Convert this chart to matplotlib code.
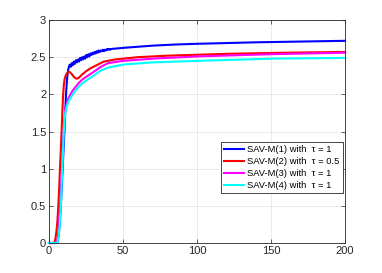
import matplotlib
matplotlib.use("Agg")
import matplotlib.pyplot as plt

# Series 1 (blue) - with fine oscillations in the 14..42 range
x1 = [0, 5.5, 6.5, 7.3, 8, 8.6, 9.2, 9.8, 10.4, 11, 11.5, 12.1, 12.7, 13.3,
      14.0, 14.7, 15.4, 16.1, 16.8, 17.5, 18.2, 18.9, 19.6, 20.3, 21.0, 21.7,
      22.4, 23.1, 23.8, 24.5, 25.2, 25.9, 26.6, 27.3, 28.0, 28.7, 29.4, 30.1,
      30.8, 31.5, 32.2, 32.9, 33.6, 34.3, 35.0, 35.7, 36.4, 37.1, 37.8, 38.5,
      39.2, 39.9, 40.6, 41.3, 42.0,
      50, 60, 70, 85, 100, 120, 140, 170, 200]
y1 = [0, 0, 0.1, 0.3, 0.5, 0.75, 1.0, 1.25, 1.5, 1.78, 2.0, 2.18, 2.3, 2.36,
      2.40, 2.37, 2.42, 2.39, 2.44, 2.41, 2.46, 2.43, 2.47, 2.44, 2.49, 2.46,
      2.50, 2.47, 2.51, 2.48, 2.53, 2.50, 2.54, 2.51, 2.55, 2.53, 2.56, 2.54,
      2.57, 2.55, 2.58, 2.56, 2.59, 2.57, 2.59, 2.58, 2.60, 2.58, 2.60, 2.59,
      2.61, 2.60, 2.61, 2.60, 2.61,
      2.625, 2.64, 2.655, 2.67, 2.68, 2.69, 2.70, 2.71, 2.72]

# Series 2 (red)
x2 = [0, 3.5, 4.3, 5, 5.7, 6.3, 6.9, 7.4, 8, 8.5, 9, 9.5, 10, 10.5, 11.2, 12,
      13, 14, 15.5, 17, 18.5, 20, 22, 25, 28, 32, 37, 45, 60, 80, 120, 160, 200]
y2 = [0, 0, 0.05, 0.15, 0.3, 0.5, 0.75, 1.0, 1.25, 1.5, 1.75, 1.98, 2.12, 2.2, 2.25, 2.28,
      2.30, 2.30, 2.27, 2.23, 2.21, 2.22, 2.26, 2.31, 2.35, 2.39, 2.44, 2.47, 2.50, 2.52, 2.545, 2.56, 2.57]

# Series 3 (magenta)
x3 = [0, 5, 6, 6.8, 7.5, 8.1, 8.7, 9.3, 9.9, 10.5, 11, 12, 13, 14.5, 16, 18, 20, 22, 24,
      27, 30, 35, 40, 50, 70, 100, 150, 200]
y3 = [0, 0, 0.08, 0.25, 0.5, 0.75, 1.0, 1.25, 1.5, 1.7, 1.8, 1.88, 1.94, 2.0, 2.05, 2.1,
      2.15, 2.19, 2.22, 2.26, 2.3, 2.37, 2.42, 2.45, 2.48, 2.51, 2.54, 2.56]

# Series 4 (cyan)
x4 = [0, 5.5, 6.5, 7.3, 8, 8.5, 9, 9.5, 10, 10.5, 11, 12, 13, 14.5, 16, 18, 20, 22, 24,
      27, 30, 35, 40, 50, 70, 100, 150, 200]
y4 = [0, 0, 0.08, 0.25, 0.5, 0.75, 1.0, 1.25, 1.5, 1.65, 1.75, 1.83, 1.9, 1.95, 2.0, 2.05,
      2.1, 2.14, 2.17, 2.21, 2.25, 2.32, 2.36, 2.40, 2.43, 2.45, 2.48, 2.49]

labels = ["SAV-M(1) with  \u03c4 = 1",
          "SAV-M(2) with  \u03c4 = 0.5",
          "SAV-M(3) with  \u03c4 = 1",
          "SAV-M(4) with  \u03c4 = 1"]
colors = ["#0000ff", "#ff0000", "#ff00ff", "#00ffff"]

xticks = [0, 50, 100, 150, 200]
yticks = [0, 0.5, 1, 1.5, 2, 2.5, 3]

plt.rcParams['font.family'] = ['Liberation Sans', 'DejaVu Sans']

fig = plt.figure(figsize=(3.82, 2.73), dpi=100)
ax = fig.add_axes([49/382, 1 - 243/273, 296/382, 223/273])

series = [(x1, y1), (x2, y2), (x3, y3), (x4, y4)]
for (xs, ys), c, lab in zip(series, colors, labels):
    ax.plot(xs, ys, color=c, lw=1.5, label=lab, clip_on=False,
            solid_joinstyle="round")

ax.set_xlim(0, 200)
ax.set_ylim(0, 3)
ax.set_xticks(xticks)
ax.set_yticks(yticks)
ax.set_yticklabels(["0", "0.5", "1", "1.5", "2", "2.5", "3"])
ax.grid(True, color="#e6e6e6", lw=0.6)
ax.set_axisbelow(True)
ax.tick_params(direction="in", top=True, right=True, labelsize=8, length=3,
               width=0.5, colors="#262626", labelcolor="#262626", pad=2)
for s in ax.spines.values():
    s.set_color("#262626")
    s.set_linewidth(0.6)

leg = ax.legend(loc="lower right", bbox_to_anchor=(0.993, 0.224), fontsize=6.75,
                frameon=True, fancybox=False, edgecolor="#262626", framealpha=1,
                handlelength=2.1, handleheight=0.5, borderpad=0.35, labelspacing=0.3,
                handletextpad=0.4, borderaxespad=0)
leg.get_frame().set_linewidth(0.6)

fig.savefig("out.png", dpi=100)
